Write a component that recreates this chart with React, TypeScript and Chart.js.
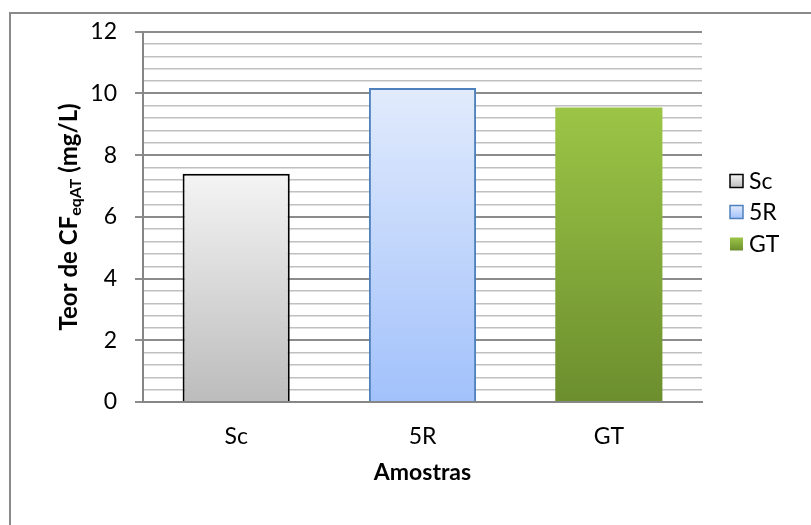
import React, { useEffect, useRef } from "react";
import { Chart, registerables } from "chart.js";

Chart.register(...registerables);

const categories = ["Sc", "5R", "GT"];
const values = [7.4, 10.18, 9.55];
const yMin = 0;
const yMax = 12;
const yStep = 0.4;
const yMajorStep = 2;
const xTitle = "Amostras";
const yTitleMain = "Teor de CF";
const yTitleSub = "eqAT";
const yTitleEnd = " (mg/L)";

const FONT = "Lato, 'Open Sans', 'DejaVu Sans', sans-serif";
const topColors = ["#f4f4f4", "#e1ebfc", "#9cc546"];
const bottomColors = ["#bcbcbc", "#a2c1fb", "#6c8e2e"];
const borderColors = ["#000000", "#4f81bd", "#8cb33c"];
const borderWidths = [2, 2, 0];

const isMajor = (v: number) => Math.abs(v / yMajorStep - Math.round(v / yMajorStep)) < 1e-6;

export default function App() {
  const ref = useRef<HTMLCanvasElement | null>(null);

  useEffect(() => {
    const canvas = ref.current;
    if (!canvas) return;

    const decor = {
      id: "decor",
      beforeDraw(chart: any) {
        const ctx = chart.ctx;
        ctx.save();
        ctx.strokeStyle = "#8a8a8a";
        ctx.lineWidth = 2;
        ctx.strokeRect(10, 13, 900, 700);
        ctx.restore();
      },
      afterDraw(chart: any) {
        const ctx = chart.ctx;
        const area = chart.chartArea;
        ctx.save();
        // x title
        ctx.fillStyle = "#000";
        ctx.font = `bold 23px ${FONT}`;
        ctx.textAlign = "center";
        ctx.textBaseline = "middle";
        ctx.fillText(xTitle, (area.left + area.right) / 2, 473);

        // y title with subscript
        const mainFont = `bold 24px ${FONT}`;
        const subFont = `bold 16px ${FONT}`;
        ctx.font = mainFont;
        const w1 = ctx.measureText(yTitleMain).width;
        const w3 = ctx.measureText(yTitleEnd).width;
        ctx.font = subFont;
        const w2 = ctx.measureText(yTitleSub).width;
        const total = w1 + w2 + w3;
        ctx.translate(69, (area.top + area.bottom) / 2);
        ctx.rotate(-Math.PI / 2);
        ctx.textAlign = "left";
        ctx.textBaseline = "alphabetic";
        let x = -total / 2;
        ctx.font = mainFont;
        ctx.fillText(yTitleMain, x, 8);
        x += w1;
        ctx.font = subFont;
        ctx.fillText(yTitleSub, x, 12);
        x += w2;
        ctx.font = mainFont;
        ctx.fillText(yTitleEnd, x, 8);
        ctx.restore();

        // legend
        ctx.save();
        const legendY = [181, 212, 244];
        categories.forEach((c, i) => {
          const bx = 730;
          const by = legendY[i] - 6.5;
          const g = ctx.createLinearGradient(0, by, 0, by + 13);
          g.addColorStop(0, topColors[i]);
          g.addColorStop(1, bottomColors[i]);
          ctx.fillStyle = g;
          ctx.fillRect(bx, by, 13, 13);
          if (borderWidths[i] > 0) {
            ctx.strokeStyle = borderColors[i];
            ctx.lineWidth = 1.5;
            ctx.strokeRect(bx, by, 13, 13);
          }
          ctx.fillStyle = "#000";
          ctx.font = `23px ${FONT}`;
          ctx.textAlign = "left";
          ctx.textBaseline = "middle";
          ctx.fillText(c, 749, legendY[i] + 1);
        });
        ctx.restore();
      },
    };

    const chart = new Chart(canvas, {
      type: "bar",
      data: {
        labels: categories,
        datasets: [
          {
            data: values,
            backgroundColor: (c: any) => {
              const chart = c.chart;
              const ys = chart.scales?.y;
              const i = c.dataIndex;
              if (!ys || !chart.chartArea || i === undefined) return topColors[i ?? 0];
              const top = ys.getPixelForValue(values[i]);
              const bottom = ys.getPixelForValue(0);
              const g = chart.ctx.createLinearGradient(0, top, 0, bottom);
              g.addColorStop(0, topColors[i]);
              g.addColorStop(1, bottomColors[i]);
              return g;
            },
            borderColor: borderColors,
            borderWidth: borderWidths,
            borderSkipped: "bottom",
            barPercentage: 0.575,
            categoryPercentage: 1,
          },
        ],
      },
      options: {
        animation: false,
        responsive: false,
        devicePixelRatio: 1,
        layout: { padding: { left: 0, top: 28, right: 109, bottom: 0 } },
        plugins: {
          legend: { display: false },
          tooltip: { enabled: false },
          title: { display: false },
        },
        scales: {
          x: {
            afterFit: (s: any) => {
              s.height = 123;
            },
            grid: { display: false, drawTicks: false },
            border: { display: true, color: "#868686", width: 2 },
            ticks: {
              color: "#000",
              font: { family: FONT, size: 23 },
              padding: 21,
            },
          },
          y: {
            min: yMin,
            max: yMax,
            afterFit: (s: any) => {
              s.width = 143;
            },
            border: { display: true, color: "#868686", width: 2 },
            grid: {
              color: (c: any) => (isMajor(c.tick?.value ?? 0) ? "#8c8c8c" : "#c0c0c0"),
              lineWidth: (c: any) => (isMajor(c.tick?.value ?? 0) ? 2 : 1.5),
              tickColor: (c: any) => (isMajor(c.tick?.value ?? 0) ? "#8c8c8c" : "rgba(0,0,0,0)"),
              tickLength: 8,
              drawTicks: true,
            },
            ticks: {
              stepSize: yStep,
              maxTicksLimit: 100,
              autoSkip: false,
              color: "#000",
              font: { family: FONT, size: 23 },
              padding: 18,
              callback: (v: any) => (isMajor(Number(v)) ? String(Math.round(Number(v))) : ""),
            },
          },
        },
      },
      plugins: [decor],
    });

    return () => chart.destroy();
  }, []);

  return (
    <div style={{ position: "fixed", left: 0, top: 0, width: 811, height: 525, background: "#fff" }}>
      <canvas ref={ref} width={811} height={525} style={{ width: 811, height: 525 }} />
    </div>
  );
}
